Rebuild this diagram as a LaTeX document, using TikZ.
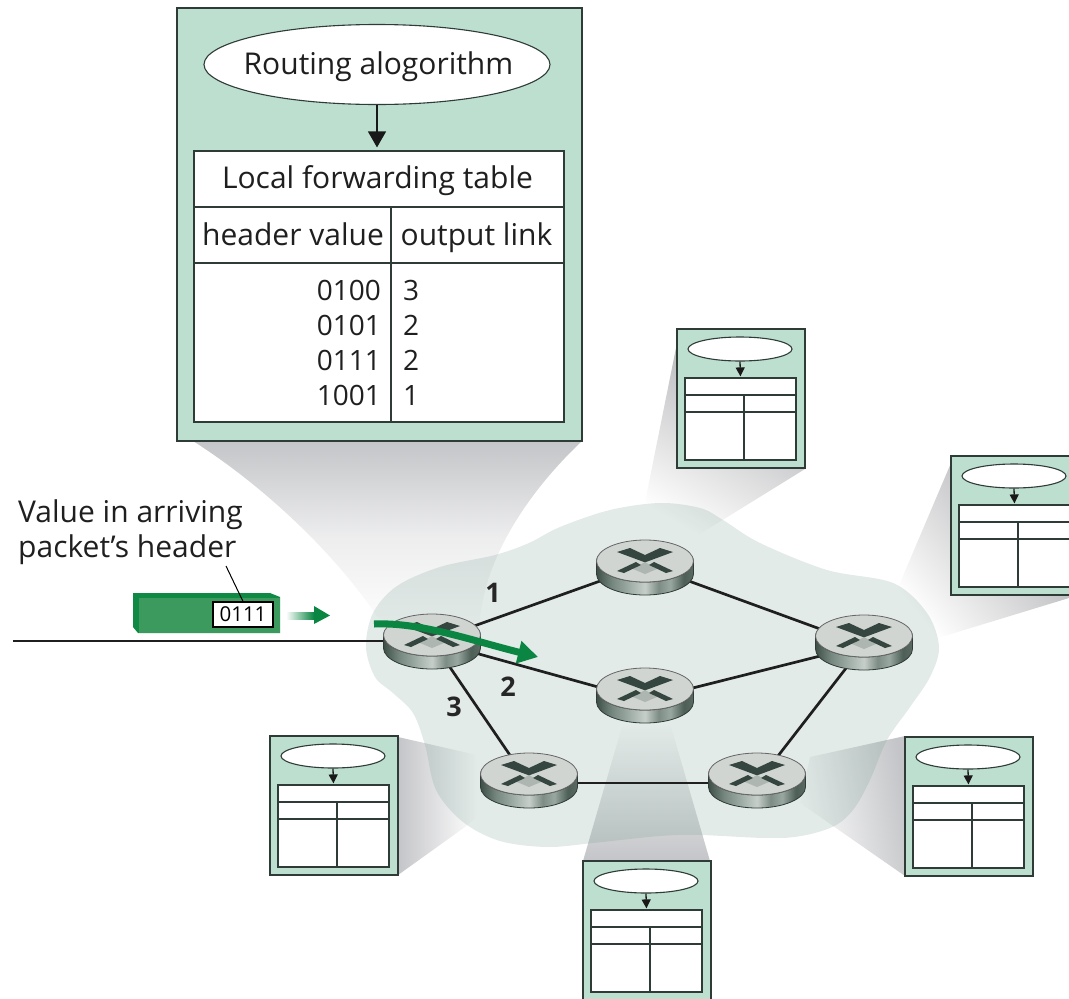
\documentclass[tikz,border=0pt]{standalone}
\usepackage{fontspec}
\setmainfont{Open Sans}
\usetikzlibrary{arrows.meta,shapes.geometric}

\definecolor{boxgreen}{HTML}{BDDFD0}
\definecolor{boxline}{HTML}{2E3B36}
\definecolor{cloudgreen}{HTML}{6E9B8C}
\definecolor{conegray}{HTML}{C4C5C8}
\definecolor{pktdark}{HTML}{0E8A45}
\definecolor{pktface}{HTML}{3D9A5E}
\definecolor{flowgreen}{HTML}{0A8542}
\definecolor{xdark}{HTML}{34463F}
\definecolor{xpatch}{HTML}{AEB6B1}
\definecolor{facegray}{HTML}{D0D5D2}

\pgfdeclarehorizontalshading{routerside}{100bp}{
  rgb(0bp)=(.24,.31,.28); rgb(25bp)=(.24,.31,.28); rgb(33bp)=(.46,.53,.50);
  rgb(42bp)=(.62,.68,.65); rgb(50bp)=(.78,.81,.79); rgb(57bp)=(.49,.55,.52);
  rgb(63bp)=(.60,.66,.63); rgb(70bp)=(.30,.37,.34); rgb(75bp)=(.36,.42,.39);
  rgb(100bp)=(.36,.42,.39)}

\tikzset{
  hub/.style={inner sep=0pt,minimum size=0pt},
  link/.style={line width=2.7pt,color=black!88},
  boxframe/.style={draw=boxline,line width=1.7pt,fill=boxgreen,inner sep=0pt},
  algo/.style={draw=boxline,line width=1.1pt,fill=white,ellipse,inner sep=0pt},
  tablecell/.style={draw=boxline,line width=1.2pt,fill=white,inner sep=0pt},
  cellrule/.style={draw=boxline,line width=1.2pt},
  feed/.style={-{Triangle[length=16pt,width=18pt]},line width=1.4pt,color=black!90,shorten >=3pt},
  smallfeed/.style={-{Triangle[length=9pt,width=9pt]},line width=1.3pt,color=black!90,shorten >=1pt},
  cone/.style={top color=conegray,bottom color=white},
  slantcone/.style={top color=conegray!88!black,bottom color=white},
  bigtxt/.style={font=\fontsize{30}{35}\selectfont,text=black!88,inner sep=0pt,anchor=base},
  digit/.style={font=\fontsize{28}{33}\selectfont,text=black!88,inner sep=0pt},
  linknum/.style={font=\fontsize{27}{32}\selectfont\bfseries,text=black!85,inner sep=0pt},
  router/.pic={
    \shade[shading=routerside,draw=boxline,line width=.8pt] (-48.5,0) -- (-48.5,13)
      arc[start angle=180,end angle=360,x radius=48.5pt,y radius=21pt] -- (48.5,0)
      arc[start angle=0,end angle=-180,x radius=48.5pt,y radius=21pt] -- cycle;
    \draw[draw=black!60,line width=.8pt,fill=facegray] (0,0) ellipse[x radius=48.5pt,y radius=21pt];
    \fill[xpatch] (0,1) -- (12,8) -- (0,13) -- (-12,8) -- cycle;
    \fill[xdark] (-28,-9) -- (-15,-13) -- (0,-6) -- (15,-13) -- (28,-9) -- (1,1) -- (-1,1) -- cycle;
    \fill[xdark] (-28,10) -- (-9,1) -- (-4,4) -- (-21,12) -- cycle;
    \fill[xdark] (28,10) -- (9,1) -- (4,4) -- (21,12) -- cycle;
  },
  tablebox/.pic={
    \node[boxframe,minimum width=128,minimum height=139] (-frame) at (64,69.5) {};
    \node[algo,minimum width=104,minimum height=24] (-algo) at (63,20) {};
    \node[tablecell,minimum width=111,minimum height=82] (-tab) at (63.5,90) {};
    \draw[cellrule] (8,66) -- (119,66);
    \draw[cellrule] (8,83) -- (119,83);
    \draw[cellrule] (67,66) -- (67,131);
    \draw[smallfeed] (-algo.south) -- (-tab.north);
  }
}

\begin{document}
\begin{tikzpicture}[x=1pt,y=-1pt]
\useasboundingbox (0,0) rectangle (1069,999);

\shade[top color=conegray,bottom color=white,middle color=conegray!30!white] (193,441) .. controls (270,490) and (340,560) .. (378,618) -- (432,635)
  -- (480,620) .. controls (485,560) and (525,495) .. (582,441) -- cycle;
\shade[slantcone,shading angle=-30] (677,343) -- (640,527) -- (687,542) -- (805,469) -- cycle;
\shade[slantcone,shading angle=-51] (951,463) -- (897,590) -- (890,613) -- (938,638) -- (1069,598) -- (1069,463) -- cycle;
\shade[cone,shading angle=-80] (905,736) -- (810,757) -- (800,803) -- (905,876) -- cycle;
\shade[cone,shading angle=90] (398,737) -- (477,755) -- (477,817) -- (465,827) -- (398,875) -- cycle;
\shade[cone,shading angle=180] (583,861) -- (710,861) -- (670,723) -- (623,723) -- cycle;

\fill[cloudgreen,opacity=.2] plot[smooth cycle,tension=.55] coordinates {
  (366,647) (373,613) (397,586) (440,567) (495,555) (529,543) (560,527) (610,510) (660,503)
  (700,508) (723,520) (760,543) (827,570) (893,583) (927,613) (939,647) (930,677)
  (910,707) (887,740) (870,780) (853,810) (830,828) (783,838) (700,835) (660,836)
  (593,843) (547,847) (500,841) (463,822) (436,790) (425,745) (413,713) (393,693) (375,677)};

\foreach \n/\x/\y in {r1/432/641,r2/645/565,r3/645/700,r4/864/645,r5/529/783,r6/757/783}
  {\node[hub] (\n) at (\x,\y) {};}
\coordinate (wirein) at (13,641);

\draw[link] (wirein) -- (r1);
\draw[link] (r1) -- (r2);
\draw[link] (r1) -- (r3);
\draw[link] (r1) -- (r5);
\draw[link] (r2) -- (r4);
\draw[link] (r3) -- (r4);
\draw[link] (r4) -- (r6);
\draw[link] (r5) -- (r6);

\foreach \n/\x/\y in {a/432/635,b/645/561,c/645/689,d/864/636,e/529/774,f/757/774}
  {\pic (\n) at (\x,\y) {router};}

\node[linknum] (numa) at (493,593) {1};
\node[linknum] (numb) at (508,687) {2};
\node[linknum] (numc) at (454,707) {3};

\foreach \n/\x/\y in {boxb/677/329,boxd/951/456,boxe/270/736,boxc/583/861,boxf/905/737}
  {\pic (\n) at (\x,\y) {tablebox};}

\node[boxframe,minimum width=405,minimum height=433] (mainbox) at (379.5,224.5) {};
\node[algo,minimum width=346,minimum height=80] (routing) at (377,64.5) {};
\node[bigtxt] (routingtxt) at (378.5,74) {Routing alogorithm};
\node[tablecell,minimum width=370,minimum height=271] (fwdtable) at (379,286.5) {};
\draw[feed] (routing.south) -- (routing.south |- fwdtable.north);
\draw[cellrule] (194,207) -- (564,207);
\draw[cellrule] (194,263) -- (564,263);
\draw[cellrule] (391,207) -- (391,422);
\node[bigtxt] (tabletitle) at (377.5,188) {Local forwarding table};
\node[bigtxt] (headval) at (293,245) {header value};
\node[bigtxt] (headlink) at (476.5,245) {output link};
\foreach \i/\h/\l/\y in {a/0100/3/300,b/0101/2/335,c/0111/2/370,d/1001/1/405}
  {\node[digit,anchor=base east] (hv\i) at (381,\y) {\h};
   \node[digit,anchor=base west] (ol\i) at (403,\y) {\l};}

\node[bigtxt,anchor=base west] (notea) at (18,522) {Value in arriving};
\node[bigtxt,anchor=base west] (noteb) at (18,557) {packet’s header};
\fill[pktdark] (133,593) -- (270,593) -- (280,597) -- (280,633) -- (138,633) -- (133,627) -- cycle;
\fill[pktface] (139,598) -- (280,598) -- (280,633) -- (139,633) -- cycle;
\node[draw=black,line width=1.2pt,fill=white,minimum width=60,minimum height=25,inner sep=0pt,font=\fontsize{20.5}{25}\selectfont] (hdrval) at (243,614.5) {0111};
\coordinate (notetip) at (226,566);
\draw[line width=1pt] (notetip) -- (hdrval.north);

\shade[left color=white,right color=flowgreen] (286,612) rectangle (314,619);
\fill[flowgreen] (314,606) -- (330,615.5) -- (314,624) -- cycle;

\coordinate (flowin) at (374,624);
\coordinate (flowout) at (538,657);
\draw[-{Triangle[length=20pt,width=22pt]},line width=7pt,color=flowgreen] (flowin) .. controls (420,622) and (470,640) .. (flowout);
\end{tikzpicture}
\end{document}
